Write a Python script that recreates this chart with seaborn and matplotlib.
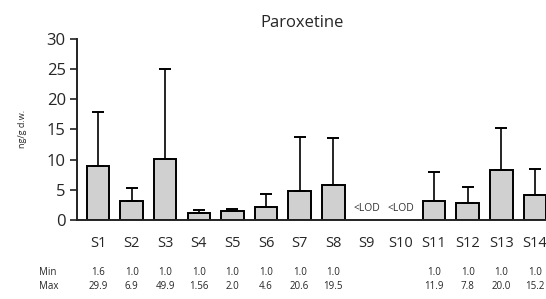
import numpy as np
import pandas as pd
import matplotlib
matplotlib.use("Agg")
import matplotlib.pyplot as plt
import seaborn as sns

sites = ["S1", "S2", "S3", "S4", "S5", "S6", "S7", "S8", "S9", "S10", "S11", "S12", "S13", "S14"]
means = [9.0, 3.2, 10.1, 1.15, 1.5, 2.2, 4.8, 5.8, np.nan, np.nan, 3.1, 2.75, 8.2, 4.2]
upper = [17.8, 5.3, 25.0, 1.6, 1.9, 4.3, 13.7, 13.5, np.nan, np.nan, 8.0, 5.4, 15.3, 8.45]
min_labels = ["1.6", "1.0", "1.0", "1.0", "1.0", "1.0", "1.0", "1.0", "", "", "1.0", "1.0", "1.0", "1.0"]
max_labels = ["29.9", "6.9", "49.9", "1.56", "2.0", "4.6", "20.6", "19.5", "", "", "11.9", "7.8", "20.0", "15.2"]
lod_sites = ["S9", "S10"]

df = pd.DataFrame({"site": sites, "mean": means})

sns.set_style("white")
plt.rcParams["font.family"] = ["Open Sans", "DejaVu Sans"]

fig = plt.figure(figsize=(5.46, 2.99), dpi=100)
ax = fig.add_axes([0.141, 0.264, 0.859, 0.607])

sns.barplot(data=df, x="site", y="mean", order=sites, color="#d0d0d0",
            edgecolor="black", linewidth=1.4, width=0.67, errorbar=None,
            saturation=1, ax=ax)

pos = np.arange(len(sites))
means_arr = np.array(means)
err = np.array(upper) - means_arr
ok = ~np.isnan(means_arr)
ax.errorbar(pos[ok], means_arr[ok], yerr=[np.zeros(ok.sum()), err[ok]],
            fmt="none", ecolor="black", elinewidth=1.2, capsize=4.5, capthick=1.4, zorder=1)

for s in lod_sites:
    i = sites.index(s)
    ax.text(i, 1.9, "<LOD", ha="center", va="center", fontsize=7.5, color="#333333")

ax.set_xlim(-0.625, 13.33)
ax.set_ylim(0, 30)
ax.set_yticks([0, 5, 10, 15, 20, 25, 30])
ax.set_xlabel("")
ax.set_ylabel("ng/g d.w.", fontsize=6.5, labelpad=14)
ax.set_title("Paroxetine", fontsize=12, pad=8, x=0.48)

for side in ["top", "right"]:
    ax.spines[side].set_visible(False)
for side in ["left", "bottom"]:
    ax.spines[side].set_color("#222222")
    ax.spines[side].set_linewidth(1.4)

ax.tick_params(axis="y", which="both", left=True, length=5, width=1.2,
               labelsize=12, pad=3, color="#222222")
ax.tick_params(axis="x", which="both", bottom=False, labelsize=10.5, pad=8)

trans = ax.get_xaxis_transform()
ax.text(-1.76, -0.287, "Min", transform=trans, ha="left", va="center", fontsize=7)
ax.text(-1.76, -0.364, "Max", transform=trans, ha="left", va="center", fontsize=7)
for i in range(len(sites)):
    ax.text(i, -0.287, min_labels[i], transform=trans, ha="center", va="center", fontsize=7)
    ax.text(i, -0.364, max_labels[i], transform=trans, ha="center", va="center", fontsize=7)

fig.savefig("out.png", dpi=100)
